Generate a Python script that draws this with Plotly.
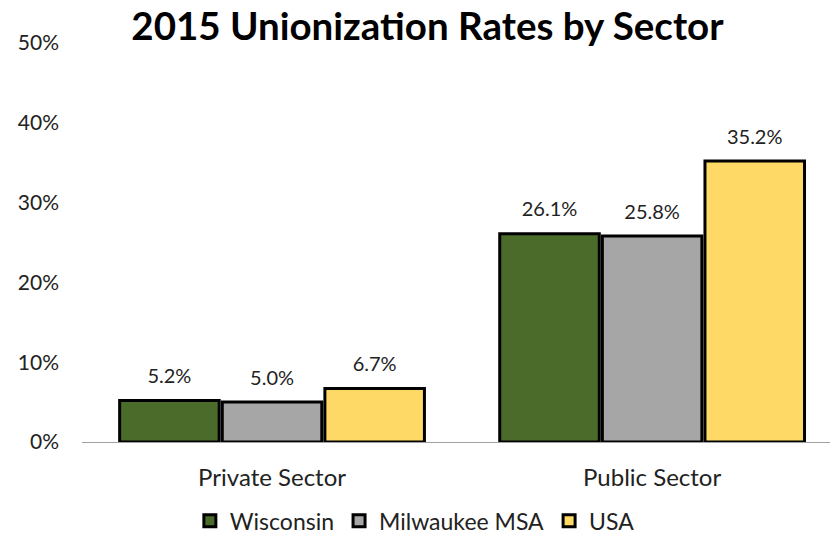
import plotly.graph_objects as go

categories = ["Private Sector", "Public Sector"]
series_names = ["Wisconsin", "Milwaukee MSA", "USA"]
wisconsin = [0.052, 0.261]
milwaukee = [0.050, 0.258]
usa = [0.067, 0.352]
colors = ["#4a6b2a", "#a6a6a6", "#ffd966"]
y_ticks = [0, 0.1, 0.2, 0.3, 0.4, 0.5]
title = "2015 Unionization Rates by Sector"

FONT = "Lato"
fig = go.Figure()
for i, (name, vals, col) in enumerate(zip(series_names, [wisconsin, milwaukee, usa], colors)):
    fig.add_trace(go.Bar(
        name=name, x=categories, y=vals, offsetgroup=str(i),
        marker=dict(color=col, line=dict(color="black", width=3)),
    ))
for i, (name, vals) in enumerate(zip(series_names, [wisconsin, milwaukee, usa])):
    fig.add_trace(go.Scatter(
        x=categories, y=vals, offsetgroup=str(i), mode="text+markers",
        marker=dict(size=18, opacity=0),
        text=[f"{v*100:.1f}%" for v in vals], textposition="top center",
        textfont=dict(size=20, color="#222", family=FONT),
        showlegend=False, hoverinfo="skip", cliponaxis=False,
    ))

fig.update_layout(
    width=830, height=537,
    margin=dict(l=82, r=0, t=43, b=95, autoexpand=False),
    paper_bgcolor="white", plot_bgcolor="white",
    barmode="group", bargap=0.19, bargroupgap=0.03,
    scattermode="group", scattergap=0.19,
    title=dict(text=f"<b>{title}</b>", x=0.515, xanchor="center", y=0.95, yanchor="middle",
               font=dict(size=38.5, color="black", family=FONT)),
    font=dict(family=FONT, color="#222"),
    showlegend=True,
    legend=dict(orientation="h", x=0.445, xanchor="center", y=0.03, yref="container",
                yanchor="middle", font=dict(size=23, color="#222"), itemwidth=30,
                traceorder="normal"),
)
fig.update_xaxes(range=[-0.5, 1.468], showline=True, linecolor="#a0a0a0", linewidth=1,
                 ticks="", tickfont=dict(size=24, color="#222"), ticklabelstandoff=14)
fig.update_yaxes(range=[0, 0.5], tickvals=y_ticks, tickformat=".0%", showgrid=False,
                 zeroline=False, showline=False, tickfont=dict(size=21, color="#222"),
                 ticklabelstandoff=22)
fig.write_html("out.html", config={"displayModeBar": False},
               post_script="document.body.style.margin='0';")
